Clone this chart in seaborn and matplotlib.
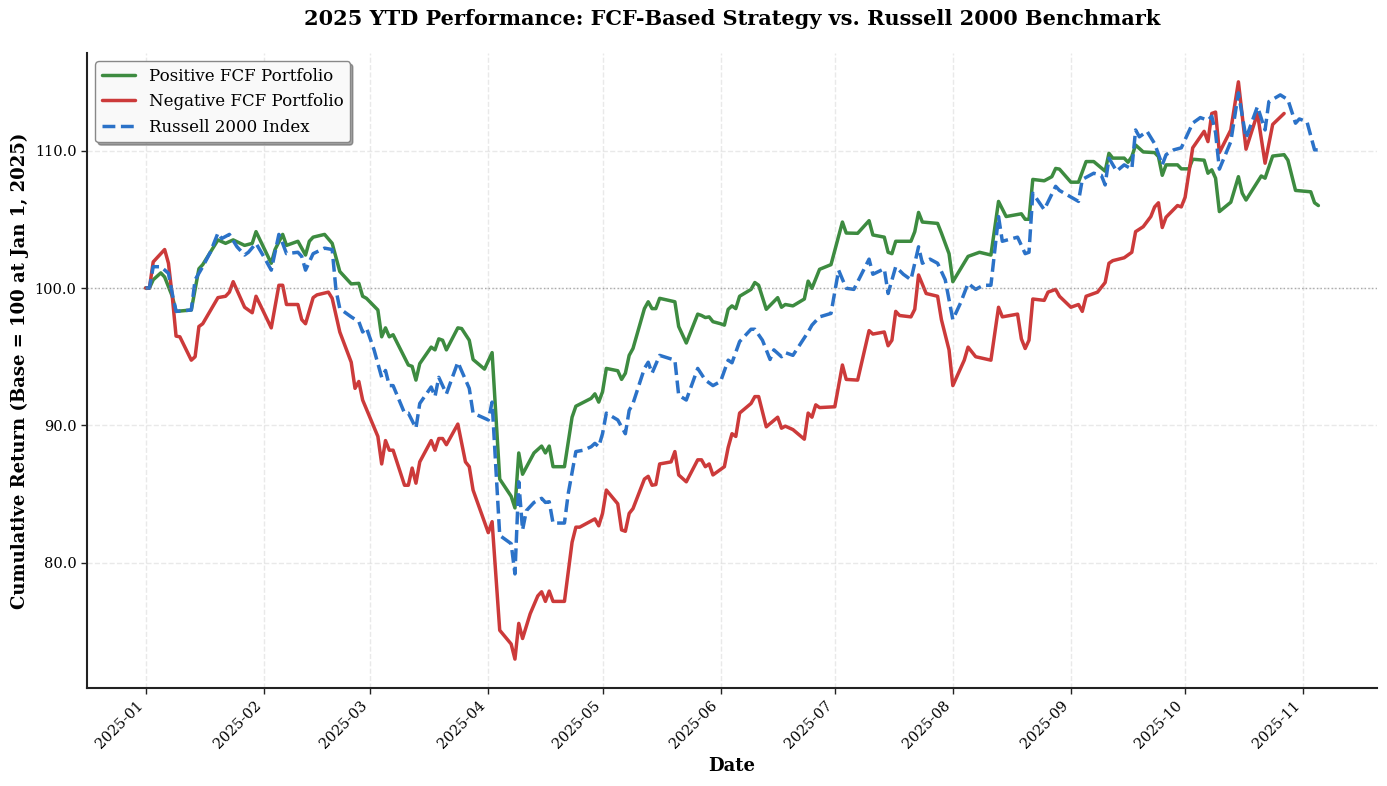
import matplotlib
matplotlib.use("Agg")
import matplotlib.pyplot as plt
import matplotlib.dates as mdates
from matplotlib.ticker import MultipleLocator, StrMethodFormatter
import numpy as np
import pandas as pd
import seaborn as sns

START = "2025-01-01"

# ---- data (day offsets from Jan 1, 2025, and index values) ----
green_days = [0,1,2,4,5,7,8,12,14,15,19,21,23,26,28,29,33,34,36,37,40,42,43,44,47,49,51,54,56,57,58,61,62,63,64,65,69,70,71,72,75,76,77,78,79,82,83,85,86,89,91,93,96,97,98,99,102,104,105,106,107,110,112,113,117,118,119,120,121,124,125,126,127,128,131,132,133,134,135,139,140,142,145,146,147,148,149,151,152,153,154,155,156,159,160,161,163,166,167,168,170,173,174,175,177,180,183,184,187,190,191,194,195,196,197,201,202,203,204,208,209,211,212,216,219,222,224,226,230,231,232,233,236,238,239,240,243,245,247,249,252,253,254,257,258,259,260,262,265,266,267,268,271,272,274,275,278,279,280,281,282,285,287,288,289,293,294,296,299,300,302,306,307,308]
green_vals = [100.0,100.0,100.6,101.1,100.8,99.4,98.3,98.4,101.4,101.7,103.5,103.25,103.5,103.1,103.25,104.1,101.8,102.8,103.9,103.1,103.4,102.4,103.4,103.7,103.9,103.25,101.2,100.3,100.34,99.4,99.25,98.4,96.45,97.1,96.45,96.6,94.4,94.3,93.3,94.5,95.7,95.5,96.3,96.2,95.5,97.1,97.05,96.2,94.8,94.1,95.3,86.1,84.85,84.0,88.0,86.45,88.0,88.5,88.0,88.5,87.0,87.0,90.6,91.4,91.97,92.3,91.7,92.45,94.15,93.98,93.35,93.8,95.1,95.6,98.5,99.0,98.5,98.5,99.25,99.0,97.2,96.0,98.1,98.0,97.85,97.9,97.55,97.4,97.3,98.45,98.7,98.5,99.4,99.9,100.4,100.2,98.45,99.3,98.6,98.8,98.7,99.2,100.5,99.98,101.36,101.7,104.8,104.0,103.98,104.9,103.86,103.7,102.6,102.5,103.4,103.4,104.1,105.5,104.8,104.7,104.0,102.5,100.46,102.3,102.6,102.4,106.3,105.2,105.4,105.0,105.0,107.9,107.8,108.1,108.7,108.65,107.7,107.7,109.2,109.2,108.5,109.8,109.45,109.45,109.15,109.56,110.4,109.9,109.85,109.56,108.2,108.96,108.96,108.67,108.67,109.37,109.3,108.35,108.6,107.99,105.56,106.24,108.1,106.9,106.4,108.15,107.99,109.6,109.7,109.3,107.1,107.0,106.2,106.0]

red_days = [0,1,2,5,6,7,8,9,12,13,14,15,19,21,22,23,26,28,29,33,35,36,37,40,41,42,44,45,48,49,51,54,55,56,57,61,62,63,64,65,68,69,70,71,72,75,76,77,78,79,82,84,85,86,90,91,93,96,97,98,99,101,103,104,105,106,107,110,112,113,114,118,119,120,121,124,125,126,127,128,131,132,133,134,135,138,139,140,142,145,146,147,148,149,152,153,154,155,156,159,160,161,163,166,167,168,170,173,174,175,176,177,181,183,184,187,190,191,194,195,196,197,198,201,202,203,205,208,209,211,212,215,216,218,222,224,225,229,230,231,232,233,236,237,239,240,243,245,246,247,250,252,253,254,257,259,260,262,264,265,266,267,268,271,272,273,275,278,279,280,281,282,285,287,289,292,294,296,299]
red_vals = [100.0,100.0,101.9,102.8,101.8,99.4,96.5,96.45,94.75,95.0,97.2,97.4,99.3,99.4,99.7,100.46,98.6,98.2,99.4,97.1,100.2,100.2,98.8,98.8,97.7,97.4,99.3,99.5,99.7,99.25,96.8,94.6,92.7,93.2,91.85,89.2,87.2,88.9,88.2,88.2,85.65,85.65,86.9,85.8,87.35,88.9,88.2,89.05,89.05,88.6,90.1,87.35,87.0,85.3,82.2,83.0,75.1,74.1,73.0,75.6,74.5,76.3,77.6,77.9,77.2,77.95,77.2,77.2,81.5,82.6,82.6,83.2,82.7,83.6,85.3,84.3,82.4,82.3,83.6,83.95,86.1,86.3,85.65,85.7,87.2,87.35,88.1,86.4,85.9,87.5,87.5,87.0,87.2,86.4,87.0,88.4,89.4,89.2,90.9,91.6,92.1,92.1,89.9,90.6,89.8,89.95,89.7,89.0,90.9,90.6,91.5,91.3,91.36,94.4,93.35,93.3,96.9,96.65,96.8,95.8,96.2,98.3,98.0,97.9,98.45,100.95,99.6,99.4,97.7,95.5,92.9,94.75,95.7,95.0,94.75,98.6,97.9,98.1,96.3,95.6,96.2,99.2,99.1,99.7,99.9,99.4,98.6,98.8,98.3,99.4,99.7,100.4,101.8,101.99,102.2,102.6,104.1,104.46,105.2,105.9,106.2,104.4,105.15,106.0,105.9,106.6,110.2,111.4,110.65,112.7,112.8,109.85,111.5,115.0,110.1,112.7,109.08,111.9,112.7]

blue_days = [0,1,2,4,6,7,8,12,13,15,17,19,20,22,24,26,27,29,31,33,35,36,37,40,41,42,44,47,49,50,51,54,56,57,58,60,62,63,64,65,68,69,71,72,75,76,77,79,82,85,86,90,91,93,96,97,98,99,100,102,104,105,106,107,110,111,113,115,117,118,119,120,121,124,126,127,128,131,132,133,135,139,140,142,145,147,149,151,153,154,156,159,160,162,164,165,167,168,170,174,175,177,180,182,184,186,190,191,194,195,197,199,201,203,204,206,208,210,212,214,216,218,220,222,224,225,229,231,232,233,236,239,240,245,246,249,251,252,253,255,257,259,260,261,263,265,267,268,270,272,275,277,279,280,281,282,285,287,289,292,294,295,298,300,302,303,305,307,308]
blue_vals = [100.0,100.0,101.55,101.55,101.07,99.6,98.3,98.4,100.6,101.55,102.6,104.0,103.6,103.9,103.0,102.4,102.6,103.25,102.3,101.3,103.9,103.25,102.5,102.6,102.3,101.3,102.5,102.9,102.8,99.85,98.5,97.9,97.55,96.8,97.1,95.5,93.5,94.0,92.9,92.9,90.9,90.9,89.8,91.6,92.8,92.1,93.5,92.3,94.6,92.7,90.9,90.4,91.7,82.0,81.4,79.2,85.9,82.4,83.8,84.4,84.7,84.4,84.45,82.9,82.9,85.05,88.1,88.2,88.45,88.7,88.45,89.4,90.9,90.4,89.4,91.1,91.6,94.15,94.6,93.8,95.1,94.75,92.2,91.85,94.15,93.3,92.9,93.2,94.75,94.56,96.1,97.0,97.0,96.2,94.8,95.5,95.0,95.3,95.1,96.8,97.3,97.9,98.15,101.3,99.98,99.9,102.1,101.0,101.4,99.6,101.55,101.0,100.6,103.0,101.8,102.1,101.8,100.6,97.7,98.9,100.34,99.9,100.2,100.2,105.2,103.4,103.7,102.5,102.6,106.9,105.7,107.4,107.1,106.3,107.9,108.35,108.2,107.5,109.45,108.5,108.96,108.65,111.5,111.0,111.4,110.5,108.96,109.7,110.05,110.2,112.0,112.4,112.2,112.5,111.3,108.65,110.65,114.2,110.9,113.2,111.5,113.56,114.05,113.7,111.99,112.3,112.1,110.05,110.05]

series_names = ["Positive FCF Portfolio", "Negative FCF Portfolio", "Russell 2000 Index"]
series_colors = ["#3d8b40", "#cc3a3a", "#2b72c8"]

title = "2025 YTD Performance: FCF-Based Strategy vs. Russell 2000 Benchmark"
xlabel = "Date"
ylabel = "Cumulative Return (Base = 100 at Jan 1, 2025)"


def to_df(days, vals):
    d = pd.to_datetime(START) + pd.to_timedelta(np.array(days), unit="D")
    return pd.DataFrame({"Date": d, "Value": vals})


sns.set_theme(style="ticks")
plt.rcParams["font.family"] = ["DejaVu Serif"]
plt.rcParams["text.color"] = "black"
plt.rcParams["axes.labelcolor"] = "black"
plt.rcParams["xtick.color"] = "black"
plt.rcParams["ytick.color"] = "black"

fig = plt.figure(figsize=(13.87, 7.86), dpi=100)
ax = fig.add_axes([0.0627, 0.1247, 0.9301, 0.8079])

dfs = [to_df(green_days, green_vals), to_df(red_days, red_vals), to_df(blue_days, blue_vals)]
styles = ["-", "-", "--"]
for df, name, col, ls in zip(dfs, series_names, series_colors, styles):
    sns.lineplot(data=df, x="Date", y="Value", ax=ax, color=col, linewidth=2.5,
                 linestyle=ls, label=name)

ax.axhline(100, color="gray", linestyle=":", linewidth=1, alpha=0.6)

ax.grid(True, linestyle="--", alpha=0.25, color="#aaaaaa")
ax.xaxis.set_major_locator(mdates.MonthLocator())
ax.xaxis.set_major_formatter(mdates.DateFormatter("%Y-%m"))
ax.yaxis.set_major_locator(MultipleLocator(10))
ax.yaxis.set_major_formatter(StrMethodFormatter("{x:.1f}"))
plt.setp(ax.get_xticklabels(), rotation=45, ha="right", fontsize=10.5)
plt.setp(ax.get_yticklabels(), fontsize=10.5)
ax.tick_params(axis="both", length=4, width=1, color="#222222")

ax.set_xlabel(xlabel, fontsize=13, fontweight="bold")
ax.set_ylabel(ylabel, fontsize=13, fontweight="bold")
ax.set_title(title, fontsize=15, fontweight="bold", pad=20)

for s in ["top", "right"]:
    ax.spines[s].set_visible(False)
for s in ["left", "bottom"]:
    ax.spines[s].set_color("#222222")
    ax.spines[s].set_linewidth(1.5)

leg = ax.legend(loc="upper left", fontsize=12, frameon=True, fancybox=True,
                shadow=True, framealpha=1.0, facecolor="#f9f9f9", edgecolor="#888888")

fig.savefig("out.png", dpi=100)
